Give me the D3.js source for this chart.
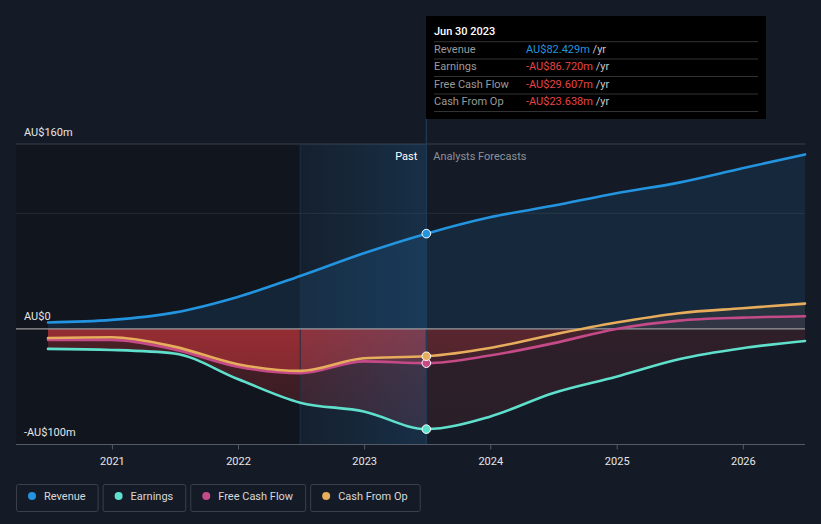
<!DOCTYPE html>
<html><head><meta charset="utf-8">
<script src="https://cdn.jsdelivr.net/npm/d3@7"></script>
<style>
html,body{margin:0;padding:0;background:#151b26;}
svg{display:block;font-family:Roboto,"Noto Sans",sans-serif;}
</style></head>
<body><svg id="c" width="821" height="524"></svg>
<script>
// ---- data (AU$ millions), half-yearly ----
const dates = ["2020-06-30","2020-12-31","2021-06-30","2021-12-31","2022-06-30","2022-12-31","2023-06-30",
               "2023-12-31","2024-06-30","2024-12-31","2025-06-30","2025-12-31","2026-06-30"];
const revenue  = [5.6, 7.8, 14.1, 27.7, 45.8, 65.5, 82.429, 96.6, 106.5, 117.4, 126.6, 139, 151];
const earnings = [-17.3, -18.2, -21.2, -43.3, -63.8, -71.4, -86.72, -75.9, -55.6, -41.3, -26.2, -16.7, -10.4];
const freeCashFlow = [-9.5, -9.5, -17.7, -32.6, -38.3, -28.1, -29.607, -23, -12.5, 0, 7.2, 9.8, 11];
const cashFromOp   = [-7.8, -7.2, -15.3, -30.5, -36.3, -25.4, -23.638, -16.5, -5, 5.5, 13.6, 17.9, 21.9];
const seriesNames  = ["Revenue","Earnings","Free Cash Flow","Cash From Op"];
const seriesColors = ["#2394df","#5fe0cc","#c44a88","#e8ad5c"];
const yTickValues  = [160, 0, -100];
const yTickLabels  = ["AU$160m","AU$0","-AU$100m"];
const xTickYears   = [2021,2022,2023,2024,2025,2026];
const tooltipDate  = "Jun 30 2023";
const tooltipValues = ["AU$82.429m","-AU$86.720m","-AU$29.607m","-AU$23.638m"];
const pastLabel = "Past", forecastLabel = "Analysts Forecasts";
const nowDate = "2023-06-30", bandStart = "2022-06-30";

const parse = d3.timeParse("%Y-%m-%d");
const D = dates.map(parse);
const allSeries = [revenue, earnings, freeCashFlow, cashFromOp];

const svg = d3.select("#c");
const W = 821, H = 524;
const pL = 16, pR = 805, pT = 144, pB = 444.5;

const x = d3.scaleTime().domain([parse("2020-06-30"), parse("2026-06-30")]).range([48, 805]);
const y = d3.scaleLinear().domain([-100, 160]).range([pB, pT]);
const y0 = y(0);
const xNow = x(parse(nowDate)), xBand = x(parse(bandStart));

svg.append("rect").attr("width", W).attr("height", H).attr("fill", "#151b26");

const defs = svg.append("defs");
defs.append("clipPath").attr("id","past").append("rect").attr("x",pL).attr("y",0).attr("width",xNow-pL).attr("height",H);
defs.append("clipPath").attr("id","fut").append("rect").attr("x",xNow).attr("y",0).attr("width",pR-xNow).attr("height",H);
defs.append("clipPath").attr("id","pos").append("rect").attr("x",0).attr("y",0).attr("width",W).attr("height",y0);
defs.append("clipPath").attr("id","neg").append("rect").attr("x",0).attr("y",y0).attr("width",W).attr("height",H-y0);
const gBand = defs.append("linearGradient").attr("id","band").attr("x1","0").attr("x2","1").attr("y1","0").attr("y2","0");
gBand.append("stop").attr("offset","0").attr("stop-color","#1f6fae").attr("stop-opacity",0.06);
gBand.append("stop").attr("offset","1").attr("stop-color","#1f6fae").attr("stop-opacity",0.24);
function redGrad(id, a0, a1){
  const g = defs.append("linearGradient").attr("id",id).attr("gradientUnits","userSpaceOnUse")
    .attr("x1",0).attr("x2",0).attr("y1",y0).attr("y2",pB);
  g.append("stop").attr("offset","0").attr("stop-color","#d83a3e").attr("stop-opacity",a0);
  g.append("stop").attr("offset","1").attr("stop-color","#d83a3e").attr("stop-opacity",a1);
}
redGrad("redPast",0.30,0.16);
redGrad("redFut",0.13,0.10);

// darker past region
svg.append("rect").attr("x",pL).attr("y",pT).attr("width",xBand-pL).attr("height",pB-pT).attr("fill","#11151d");

// gridlines
svg.append("line").attr("x1",pL).attr("x2",pR).attr("y1",y(160)).attr("y2",y(160)).attr("stroke","#3a404a").attr("stroke-width",1);
svg.append("line").attr("x1",pL).attr("x2",pR).attr("y1",y(100)).attr("y2",y(100)).attr("stroke","#262c36").attr("stroke-width",1);

// areas
const area = vals => d3.area().x((d,i)=>x(D[i])).y0(y0).y1(d=>y(d)).curve(d3.curveMonotoneX)(vals);
const line = d3.line().x((d,i)=>x(D[i])).y(d=>y(d)).curve(d3.curveMonotoneX);

[["past","redPast",0.13],["fut","redFut",0.12]].forEach(([clip, red, posA])=>{
  const g = svg.append("g").attr("clip-path",`url(#${clip})`);
  allSeries.forEach((vals, k)=>{
    g.append("g").attr("clip-path","url(#pos)").append("path").attr("d",area(vals))
      .attr("fill",seriesColors[k]).attr("fill-opacity",k===0?posA:0.08);
    g.append("g").attr("clip-path","url(#neg)").append("path").attr("d",area(vals))
      .attr("fill",`url(#${red})`);
  });
});

// highlighted band (last year of past)
svg.append("rect").attr("x",xBand).attr("y",pT).attr("width",xNow-xBand).attr("height",pB-pT).attr("fill","url(#band)");
svg.append("line").attr("x1",xBand).attr("x2",xBand).attr("y1",pT).attr("y2",pB).attr("stroke","#1e3246").attr("stroke-width",1);
svg.append("line").attr("x1",xNow).attr("x2",xNow).attr("y1",118).attr("y2",pB).attr("stroke","#1f3c58").attr("stroke-width",1.2);

// zero line
svg.append("line").attr("x1",pL).attr("x2",pR).attr("y1",y0).attr("y2",y0).attr("stroke","#9a9a9e").attr("stroke-width",1.4);

// lines
[1,2,3,0].forEach(k=>{
  svg.append("path").attr("d",line(allSeries[k])).attr("fill","none")
    .attr("stroke",seriesColors[k]).attr("stroke-width",2.6).attr("stroke-linecap","round");
});
const iNow = dates.indexOf(nowDate);
[0,1,2,3].forEach(k=>{
  svg.append("circle").attr("cx",xNow).attr("cy",y(allSeries[k][iNow])).attr("r",4.3)
    .attr("fill",seriesColors[k]).attr("stroke","#ffffff").attr("stroke-width",1);
});

// x axis
const xAxis = d3.axisBottom(x).tickValues(xTickYears.map(yr=>new Date(yr,0,1))).tickFormat(d3.timeFormat("%Y")).tickSize(5).tickSizeOuter(0);
const gx = svg.append("g").attr("transform",`translate(0,${pB})`).call(xAxis);
gx.select(".domain").remove();
gx.selectAll(".tick line").attr("stroke","#555b66");
gx.selectAll(".tick text").attr("fill","#e6e6e6").attr("font-size",11).attr("dy","1.15em").attr("font-family","Roboto,sans-serif");
svg.append("line").attr("x1",pL).attr("x2",pR).attr("y1",pB).attr("y2",pB).attr("stroke","#555b66").attr("stroke-width",1);

// y labels
yTickValues.forEach((v,i)=>{
  svg.append("text").attr("x",24).attr("y",y(v)-8.5).attr("fill","#e6e6e6").attr("font-size",11).text(yTickLabels[i]);
});

svg.append("text").attr("x",xNow-9).attr("y",160).attr("text-anchor","end").attr("fill","#ffffff").attr("font-size",11).text(pastLabel);
svg.append("text").attr("x",xNow+7).attr("y",160).attr("fill","#8c919a").attr("font-size",11).text(forecastLabel);

// tooltip
const tt = svg.append("g");
tt.append("rect").attr("x",426).attr("y",16).attr("width",340).attr("height",103).attr("fill","#000000");
tt.append("text").attr("x",434).attr("y",35).attr("fill","#ffffff").attr("font-size",11).attr("font-weight",500).text(tooltipDate);
const rowY = [52.5, 70, 87.5, 105];
const lineY = [41.7, 59, 76.5, 94, 111.5];
lineY.forEach(ly=>tt.append("line").attr("x1",434).attr("x2",758).attr("y1",ly).attr("y2",ly).attr("stroke","#333336").attr("stroke-width",1));
seriesNames.forEach((n,i)=>{
  tt.append("text").attr("x",434).attr("y",rowY[i]).attr("fill","#9a9a9a").attr("font-size",11).text(n);
  const t = tt.append("text").attr("x",526).attr("y",rowY[i]).attr("font-size",11);
  t.append("tspan").attr("fill", tooltipValues[i].startsWith("-") ? "#e84545" : "#2394df").text(tooltipValues[i]);
  t.append("tspan").attr("fill","#c8c8c8").text(" /yr");
});

// legend
let lx = 16;
seriesNames.forEach((n,i)=>{
  const g = svg.append("g");
  const txt = g.append("text").attr("x",lx+28).attr("y",500).attr("fill","#d8d8d8").attr("font-size",11).text(n);
  const tw = txt.node().getComputedTextLength();
  const bw = tw + 40;
  g.insert("rect","text").attr("x",lx+0.5).attr("y",484.5).attr("width",bw).attr("height",27).attr("rx",2)
    .attr("fill","none").attr("stroke","#3b414c").attr("stroke-width",1);
  g.append("circle").attr("cx",lx+16).attr("cy",496).attr("r",4).attr("fill",seriesColors[i]);
  lx += bw + 5;
});
</script></body></html>
